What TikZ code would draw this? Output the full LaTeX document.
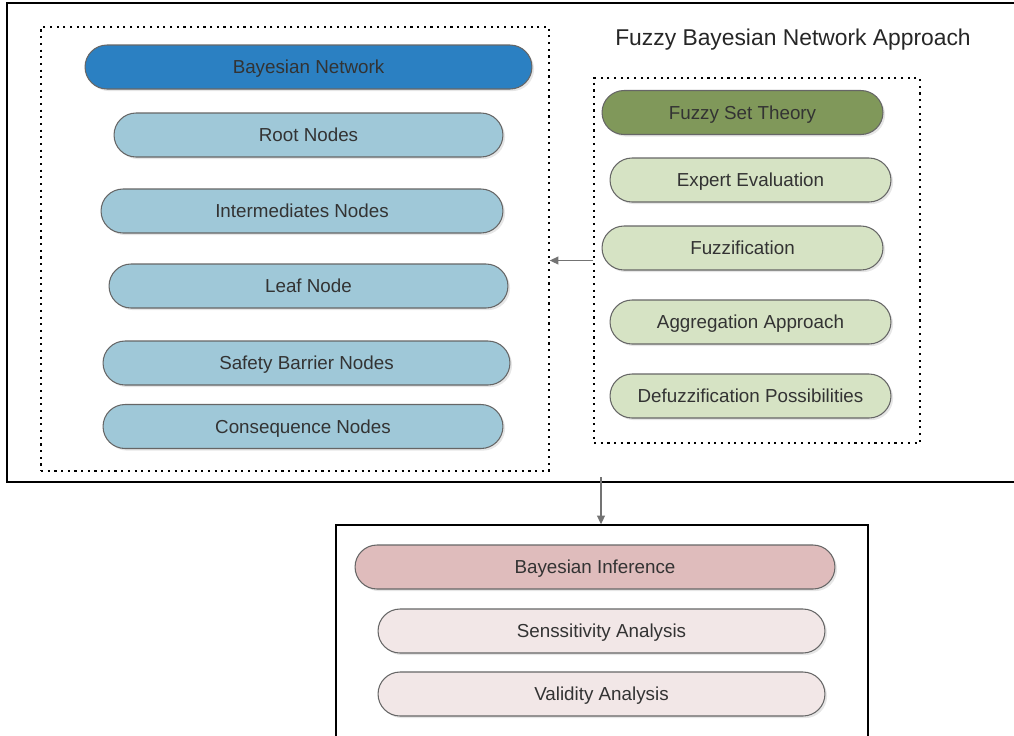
\documentclass[tikz,border=0pt]{standalone}
\usepackage{fontspec}
\setmainfont{Liberation Sans}
\usepackage{xcolor}
\usetikzlibrary{arrows.meta,shadows}

\definecolor{bnblue}{HTML}{2B80C2}
\definecolor{nodeblue}{HTML}{9FC8D8}
\definecolor{fuzzgreen}{HTML}{80985A}
\definecolor{stepgreen}{HTML}{D6E3C4}
\definecolor{infpink}{HTML}{DFBCBC}
\definecolor{steppink}{HTML}{F2E7E7}
\definecolor{txtgray}{HTML}{333333}

\begin{document}
\begin{tikzpicture}[x=0.02cm, y=-0.02cm,
  pill/.style={draw=black!60, line width=0.6pt, rounded corners=0.44cm,
    minimum width=#1, minimum height=0.88cm, inner sep=0pt,
    text height=7.8pt, text depth=0pt,
    text=txtgray, font=\fontsize{10.7}{12}\selectfont,
    drop shadow={opacity=0.2, shadow xshift=1.2pt, shadow yshift=-1.2pt}},
  dotbox/.style={draw, line width=0.8pt, dash pattern=on 1.2pt off 2.6pt, inner sep=0pt},
  frame/.style={draw, line width=0.8pt, inner sep=0pt},
  link/.style={draw=black!55, line width=0.7pt, -{Triangle[length=5pt, width=4.5pt]}}
]
\useasboundingbox (0,0) rectangle (1014,735);
\clip (0,0) rectangle (1014,735);

% frames
\node[frame, minimum width=20.36cm, minimum height=9.58cm] (outer) at (516,242.5) {};
\node[frame, minimum width=10.64cm, minimum height=4.9cm] (infbox) at (602,647.5) {};
\node[dotbox, minimum width=10.16cm, minimum height=8.88cm] (bnbox) at (295,249) {};
\node[dotbox, minimum width=6.52cm, minimum height=7.3cm] (fuzzbox) at (757,260.5) {};

\node[text=black!85, font=\fontsize{13}{15}\selectfont] (title) at (793,39.5) {Fuzzy Bayesian Network Approach};

% bayesian network
\node[pill=8.94cm, fill=bnblue] (bn) at (308.5,67) {Bayesian Network};
\node[pill=7.78cm, fill=nodeblue] (root) at (308.5,135) {Root Nodes};
\node[pill=8.04cm, fill=nodeblue] (inter) at (302,211) {Intermediates Nodes};
\node[pill=7.98cm, fill=nodeblue] (leaf) at (308.5,286) {Leaf Node};
\node[pill=8.14cm, fill=nodeblue] (barrier) at (306.5,363) {Safety Barrier Nodes};
\node[pill=8.0cm, fill=nodeblue] (conseq) at (303,426.5) {Consequence Nodes};

% fuzzy set theory
\node[pill=5.62cm, fill=fuzzgreen] (fst) at (742.5,112.5) {Fuzzy Set Theory};
\node[pill=5.62cm, fill=stepgreen] (expert) at (750.5,180) {Expert Evaluation};
\node[pill=5.62cm, fill=stepgreen] (fuzz) at (742.5,248) {Fuzzification};
\node[pill=5.62cm, fill=stepgreen] (aggr) at (750.5,322) {Aggregation Approach};
\node[pill=5.62cm, fill=stepgreen] (defuzz) at (750.5,396) {Defuzzification Possibilities};

% inference
\node[pill=9.6cm, fill=infpink] (binf) at (595,567) {Bayesian Inference};
\node[pill=8.94cm, fill=steppink] (sens) at (601.5,631) {Senssitivity Analysis};
\node[pill=8.94cm, fill=steppink] (valid) at (601.5,694) {Validity Analysis};

% connectors
\coordinate (split) at (601,477);
\draw[link] (fuzzbox.west) -- (bnbox.east |- fuzzbox.west);
\draw[link] (split) -- (split |- infbox.north);
\end{tikzpicture}
\end{document}
